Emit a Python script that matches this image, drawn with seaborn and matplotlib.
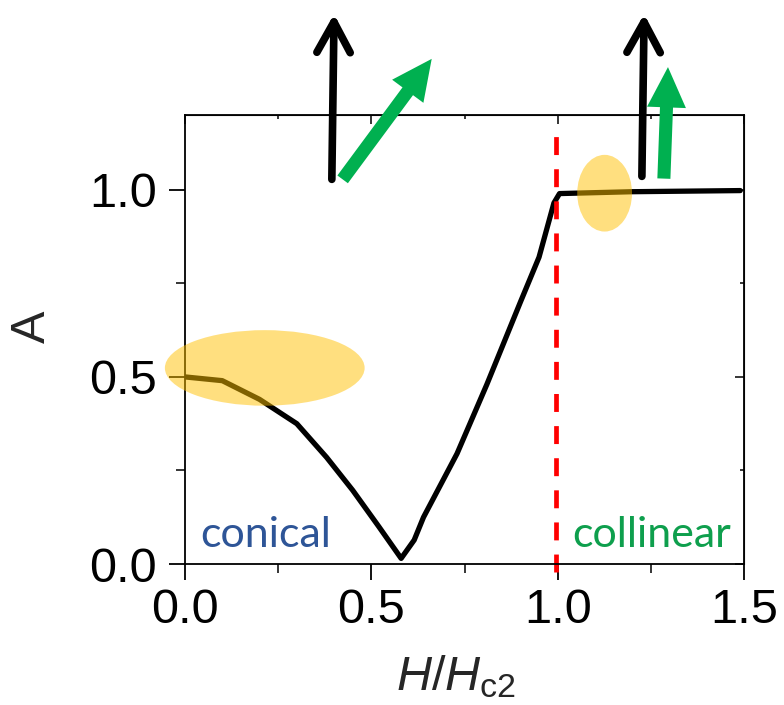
import numpy as np
import pandas as pd
import matplotlib
matplotlib.use('Agg')
import matplotlib.pyplot as plt
import seaborn as sns
from matplotlib.patches import Ellipse
from matplotlib.ticker import AutoMinorLocator

# curve
h_ratio = [0.0, 0.1, 0.2, 0.3, 0.38, 0.45, 0.52, 0.58, 0.615, 0.64, 0.73, 0.81,
           0.9, 0.95, 0.99, 1.005, 1.2, 1.49]
a_value = [0.50, 0.49, 0.44, 0.375, 0.285, 0.197, 0.10, 0.015, 0.064, 0.125, 0.295, 0.48,
           0.70, 0.82, 0.965, 0.99, 0.995, 0.998]

x_ticks = [0.0, 0.5, 1.0, 1.5]
y_ticks = [0.0, 0.5, 1.0]
hc2 = 0.995

# highlighted regions: (x, y, width, height)
ellipses = [(0.214, 0.524, 0.536, 0.202), (1.126, 0.991, 0.147, 0.205)]
# spin arrows drawn above the frame: (start, tip)
black_arrows = [((0.394, 1.028), (0.400, 1.470)), ((1.226, 1.036), (1.232, 1.470))]
green_arrows = [((0.423, 1.028), (0.662, 1.350)), ((1.285, 1.030), (1.296, 1.328))]

sns.set_style('ticks')
plt.rcParams['font.family'] = ['Liberation Sans', 'DejaVu Sans']
plt.rcParams['mathtext.fontset'] = 'custom'
plt.rcParams['mathtext.it'] = 'Liberation Sans:italic'
plt.rcParams['mathtext.rm'] = 'Liberation Sans'

fig = plt.figure(figsize=(7.84, 7.05), dpi=100)
ax = fig.add_axes([185 / 784, 141 / 705, 559 / 784, 449 / 705])

df = pd.DataFrame({'H': h_ratio, 'A': a_value})
sns.lineplot(data=df, x='H', y='A', color='black', estimator=None, ax=ax, zorder=2)
curve = ax.lines[-1]
curve.set_linewidth(3.8)
curve.set_solid_joinstyle('round')

ax.plot([hc2, hc2], [-0.022, 1.153], color='#FF0000', linewidth=3.4,
        linestyle=(0, (3.8, 3.0)), clip_on=False, zorder=2)

for ex, ey, ew, eh in ellipses:
    ax.add_patch(Ellipse((ex, ey), ew, eh, facecolor='#FFC000', edgecolor='none',
                         alpha=0.5, clip_on=False, zorder=3))

for start, tip in black_arrows:
    ax.annotate('', xy=tip, xytext=start, annotation_clip=False,
                arrowprops=dict(arrowstyle='->,head_length=1.1,head_width=0.6',
                                mutation_scale=20, lw=5.5, color='black',
                                shrinkA=0, shrinkB=0, capstyle='round', joinstyle='round'))
for start, tip in green_arrows:
    ax.annotate('', xy=tip, xytext=start, annotation_clip=False,
                arrowprops=dict(arrowstyle='simple,head_length=2.9,head_width=2.8,tail_width=0.94',
                                mutation_scale=10, lw=0, color='#00B050',
                                shrinkA=0, shrinkB=0))

ax.text(0.040, 0.045, 'conical', color='#2E5597', fontsize=31, family='Lato',
        va='baseline', ha='left')
ax.text(1.038, 0.045, 'collinear', color='#0E9F4D', fontsize=31, family='Lato',
        va='baseline', ha='left')

ax.set_xlim(0, 1.5)
ax.set_ylim(0, 1.2)
ax.set_xticks(x_ticks)
ax.set_yticks(y_ticks)
ax.xaxis.set_minor_locator(AutoMinorLocator(2))
ax.yaxis.set_minor_locator(AutoMinorLocator(2))
ax.tick_params(which='major', direction='out', length=11.5, width=1.3, labelsize=35,
               color='black', labelcolor='black')
ax.tick_params(which='minor', direction='out', length=6.5, width=1.3)
ax.tick_params(axis='x', which='major', pad=6)
ax.tick_params(axis='y', which='major', pad=9)

for side in ['left', 'bottom', 'top', 'right']:
    ax.spines[side].set_visible(True)
    ax.spines[side].set_linewidth(1.3)
    ax.spines[side].set_color('black')

top = ax.secondary_xaxis('top')
top.set_xticks(x_ticks)
top.xaxis.set_minor_locator(AutoMinorLocator(2))
top.tick_params(which='major', direction='in', length=6.5, width=1.3, labeltop=False)
top.tick_params(which='minor', direction='in', length=3, width=1.3)
right = ax.secondary_yaxis('right')
right.set_yticks(y_ticks)
right.yaxis.set_minor_locator(AutoMinorLocator(2))
right.tick_params(which='major', direction='in', length=6.5, width=1.3, labelright=False)
right.tick_params(which='minor', direction='in', length=3, width=1.3)

ax.set_xlabel(r'$\mathit{H/H}_\mathrm{c2}$', fontsize=35)
ax.set_ylabel('A', fontsize=35)
ax.xaxis.set_label_coords(0.485, -0.198)
ax.yaxis.set_label_coords(-0.232, 0.528)

fig.savefig('out.png', dpi=100)
